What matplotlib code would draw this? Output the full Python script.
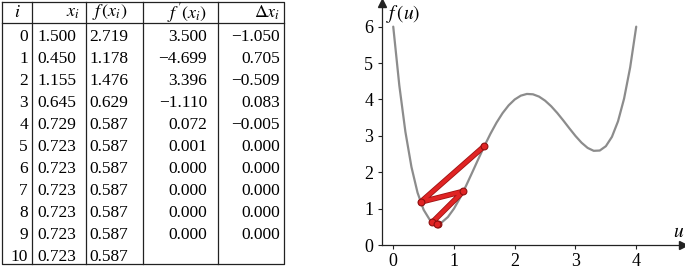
import matplotlib
matplotlib.use('Agg')
import matplotlib.pyplot as plt
import matplotlib.patheffects as pe

plt.rcParams['mathtext.fontset'] = 'stix'
plt.rcParams['font.family'] = 'Liberation Serif'

# Iteration table
it = list(range(11))
x_i = ['1.500', '0.450', '1.155', '0.645', '0.729', '0.723', '0.723', '0.723', '0.723', '0.723', '0.723']
f_i = ['2.719', '1.178', '1.476', '0.629', '0.587', '0.587', '0.587', '0.587', '0.587', '0.587', '0.587']
df_i = ['3.500', '\u22124.699', '3.396', '\u22121.110', '0.072', '0.001', '0.000', '0.000', '0.000', '0.000', '']
dx_i = ['\u22121.050', '0.705', '\u22120.509', '0.083', '\u22120.005', '0.000', '0.000', '0.000', '0.000', '0.000', '']

# Iterates drawn on the curve
path_u = [1.500, 0.450, 1.155, 0.645, 0.729, 0.723]
path_f = [2.719, 1.178, 1.476, 0.629, 0.587, 0.587]

# Curve f(u)
curve_u = [0.0, 0.1, 0.2, 0.3, 0.4, 0.5, 0.6, 0.7, 0.8, 0.9, 1.0,
           1.1, 1.2, 1.3, 1.4, 1.5, 1.6, 1.7, 1.8, 1.9, 2.0,
           2.1, 2.2, 2.3, 2.4, 2.5, 2.6, 2.7, 2.8, 2.9, 3.0,
           3.1, 3.2, 3.3, 3.4, 3.5, 3.6, 3.7, 3.8, 3.9, 4.0]
curve_f = [6.000, 4.384, 3.111, 2.142, 1.439, 0.968, 0.696, 0.591, 0.624, 0.769, 1.000,
           1.295, 1.632, 1.993, 2.360, 2.719, 3.056, 3.361, 3.624, 3.838, 3.999,
           4.104, 4.151, 4.141, 4.078, 3.966, 3.813, 3.628, 3.421, 3.205, 2.996,
           2.811, 2.668, 2.588, 2.596, 2.715, 2.972, 3.398, 4.022, 4.878, 6.000]

W, H = 685, 270
fig = plt.figure(figsize=(W / 100, H / 100), dpi=100)

# ---- table, drawn in pixel coordinates ----
tb = fig.add_axes([0, 0, 1, 1])
tb.set_xlim(0, W)
tb.set_ylim(H, 0)
tb.axis('off')

lc = '#222222'
left, right, top, bottom = 2, 284, 2, 264
tb.plot([left, right, right, left, left], [top, top, bottom, bottom, top], color=lc, lw=0.9)
tb.plot([left, right], [23, 23], color=lc, lw=0.9)
for xv in [32.5, 86.5, 143, 218.5]:
    tb.plot([xv, xv], [top, bottom], color=lc, lw=0.9)

fs = 12.5
hfs = 13
hy = 12.5
tb.text(17, hy, r'$i$', fontsize=hfs, ha='center', va='center')
tb.text(80, hy, r'$x_i$', fontsize=hfs, ha='right', va='center')
tb.text(92, hy, r'$f\,(x_i)$', fontsize=hfs, ha='left', va='center')
tb.text(207, hy, r"$f\,^{\prime}(x_i)$", fontsize=hfs, ha='right', va='center')
tb.text(280, hy, r'$\Delta x_i$', fontsize=hfs, ha='right', va='center')

for r in it:
    y = 37 + 22 * r
    tb.text(28, y, str(r), fontsize=fs, ha='right', va='center')
    tb.text(37, y, x_i[r], fontsize=fs, ha='left', va='center')
    tb.text(89, y, f_i[r], fontsize=fs, ha='left', va='center')
    tb.text(207, y, df_i[r], fontsize=fs, ha='right', va='center')
    tb.text(280, y, dx_i[r], fontsize=fs, ha='right', va='center')

# ---- plot of f(u) ----
ax = fig.add_axes([381.7 / W, 25 / H, (683 - 381.7) / W, 242 / H])
ax.set_xlim(-0.19, 4.77)
ax.set_ylim(0, 6.65)
for s in ['top', 'right']:
    ax.spines[s].set_visible(False)
for s in ['left', 'bottom']:
    ax.spines[s].set_color('#222222')
    ax.spines[s].set_linewidth(0.9)
ax.plot(1, 0, '>', color='#222222', ms=6, transform=ax.transAxes, clip_on=False)
ax.plot(0, 1, '^', color='#222222', ms=6, transform=ax.transAxes, clip_on=False)

ax.set_xticks([0, 1, 2, 3, 4])
ax.set_yticks([0, 1, 2, 3, 4, 5, 6])
ax.tick_params(direction='out', length=3, width=0.8, pad=3, labelsize=13, color='#222222')

ax.plot(curve_u, curve_f, color='#8c8c8c', lw=1.6, solid_capstyle='round', zorder=2)
ax.plot(path_u, path_f, color='#e02424', lw=2.8, solid_capstyle='round', zorder=3,
        path_effects=[pe.Stroke(linewidth=4.0, foreground='#9e1414'), pe.Normal()])
ax.scatter(path_u, path_f, s=24, color='#e02424', edgecolor='#8e1010', linewidth=0.8, zorder=4)

ax.text(0.015, 0.955, r'$f\,(u)$', transform=ax.transAxes, fontsize=14, ha='left', va='center')
ax.text(0.987, 0.05, r'$u$', transform=ax.transAxes, fontsize=14, ha='center', va='center')

fig.savefig('out.png', dpi=100)
